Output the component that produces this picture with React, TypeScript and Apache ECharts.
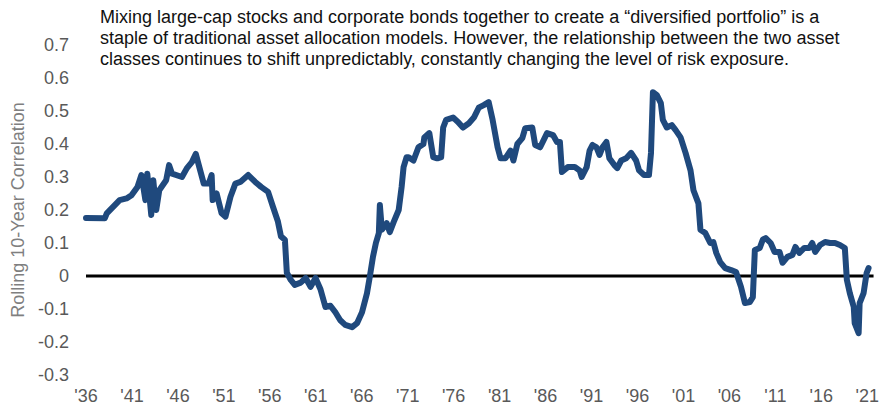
import React, { useEffect, useRef } from "react";
import * as echarts from "echarts";

const years: number[] = [
  1936.0, 1938.05, 1938.26, 1939.66, 1940.41, 1940.95, 1941.6, 1942.03, 1942.46, 1942.67,
  1943.1, 1943.32, 1943.64, 1943.97, 1944.72, 1945.04, 1945.36, 1946.44, 1946.98, 1947.52,
  1947.95, 1948.27, 1948.81, 1949.35, 1949.67, 1949.78, 1950.21, 1950.75, 1951.18, 1951.72,
  1952.25, 1952.79, 1953.65, 1954.41, 1955.05, 1955.81, 1956.34, 1956.88, 1957.21, 1957.64,
  1957.85, 1958.28, 1958.71, 1959.36, 1959.9, 1960.43, 1960.97, 1961.51, 1962.05, 1962.59,
  1963.13, 1963.66, 1964.2, 1964.96, 1965.49, 1966.03, 1966.57, 1966.89, 1967.22, 1967.54,
  1967.86, 1967.97, 1968.19, 1968.72, 1969.05, 1969.48, 1970.02, 1970.34, 1970.55, 1970.88,
  1971.09, 1971.63, 1972.17, 1972.71, 1972.81, 1973.35, 1973.78, 1974.11, 1974.32, 1974.64,
  1974.86, 1975.18, 1975.94, 1976.47, 1977.01, 1977.66, 1978.2, 1978.73, 1979.27, 1979.81,
  1980.24, 1980.78, 1981.1, 1981.64, 1982.18, 1982.5, 1982.93, 1983.47, 1983.79, 1984.55,
  1984.87, 1985.41, 1986.16, 1986.81, 1987.24, 1987.56, 1987.78, 1988.42, 1989.18, 1989.71,
  1989.93, 1990.47, 1990.79, 1991.11, 1991.54, 1991.87, 1992.19, 1992.62, 1992.94, 1993.48,
  1993.8, 1994.23, 1994.77, 1995.31, 1995.85, 1996.17, 1996.71, 1997.25, 1997.47, 1997.68,
  1998.11, 1998.54, 1998.76, 1999.19, 1999.73, 2000.15, 2000.69, 2001.23, 2001.77, 2002.09,
  2002.63, 2002.85, 2003.38, 2003.92, 2004.25, 2004.57, 2005.0, 2005.54, 2006.18, 2006.72,
  2007.26, 2007.69, 2008.23, 2008.55, 2008.77, 2009.3, 2009.63, 2009.95, 2010.49, 2010.92,
  2011.46, 2011.78, 2012.32, 2012.86, 2013.18, 2013.61, 2014.15, 2014.69, 2015.01, 2015.33,
  2015.87, 2016.41, 2016.95, 2017.49, 2018.02, 2018.56, 2018.78, 2019.1, 2019.53, 2019.63,
  2020.06, 2020.17, 2020.6, 2020.93, 2021.14,
];

const correlation: number[] = [
  0.176, 0.175, 0.19, 0.23, 0.235, 0.245, 0.27, 0.306, 0.23, 0.31,
  0.185, 0.29, 0.2, 0.26, 0.29, 0.336, 0.31, 0.3, 0.327, 0.345,
  0.37, 0.336, 0.28, 0.28, 0.306, 0.23, 0.25, 0.19, 0.18, 0.24,
  0.28, 0.285, 0.306, 0.285, 0.27, 0.255, 0.21, 0.165, 0.12, 0.11,
  0.01, -0.012, -0.027, -0.02, -0.006, -0.033, -0.006, -0.04, -0.094, -0.09,
  -0.11, -0.134, -0.148, -0.155, -0.143, -0.11, -0.052, 0.0, 0.058, 0.1,
  0.13, 0.215, 0.14, 0.16, 0.133, 0.164, 0.2, 0.27, 0.33, 0.36,
  0.36, 0.35, 0.39, 0.4, 0.42, 0.433, 0.36, 0.357, 0.357, 0.36,
  0.45, 0.473, 0.48, 0.467, 0.45, 0.463, 0.48, 0.51, 0.518, 0.527,
  0.473, 0.39, 0.357, 0.357, 0.38, 0.35, 0.4, 0.418, 0.448, 0.45,
  0.397, 0.39, 0.433, 0.427, 0.406, 0.406, 0.315, 0.33, 0.33, 0.32,
  0.3, 0.33, 0.38, 0.397, 0.39, 0.367, 0.39, 0.406, 0.357, 0.336,
  0.327, 0.35, 0.357, 0.373, 0.35, 0.32, 0.306, 0.306, 0.373, 0.557,
  0.548, 0.524, 0.473, 0.45, 0.457, 0.442, 0.42, 0.373, 0.32, 0.26,
  0.22, 0.14, 0.13, 0.1, 0.103, 0.07, 0.042, 0.024, 0.018, 0.012,
  -0.033, -0.082, -0.079, -0.064, 0.079, 0.085, 0.11, 0.115, 0.1, 0.073,
  0.073, 0.04, 0.058, 0.064, 0.088, 0.07, 0.085, 0.085, 0.1, 0.073,
  0.094, 0.103, 0.1, 0.1, 0.094, 0.085, -0.012, -0.052, -0.094, -0.143,
  -0.173, -0.082, -0.052, 0.009, 0.024,
];

const startYear = 1936;
const yTickMin = -0.3;
const yTickMax = 0.7;
const yTickStep = 0.1;

const noteLines: string[] = [
  "Mixing large-cap stocks and corporate bonds together to create a \u201cdiversified portfolio\u201d is a",
  "staple of traditional asset allocation models. However, the relationship between the two asset",
  "classes continues to shift unpredictably, constantly changing the level of risk exposure.",
];

const yAxisTitle = "Rolling 10-Year Correlation";

const FONT = "'Liberation Sans', Arial, sans-serif";

export default function App() {
  const ref = useRef<HTMLDivElement>(null);

  useEffect(() => {
    document.body.style.margin = "0";
    if (!ref.current) return;
    const chart = echarts.init(ref.current, undefined, { renderer: "svg" });
    const xMax = (882 - 86) / 9.29;
    const data = years.map((y, i) => [y - startYear, correlation[i]]);
    chart.setOption({
      animation: false,
      grid: { left: 86, right: 0, top: 45, bottom: 32, containLabel: false },
      xAxis: {
        type: "value",
        min: 0,
        max: xMax,
        interval: 5,
        axisLine: { show: false },
        axisTick: { show: false },
        splitLine: { show: false },
        axisLabel: {
          color: "#595959",
          fontFamily: FONT,
          fontSize: 18,
          margin: 12,
          showMaxLabel: false,
          formatter: (v: number) =>
            "'" + String((startYear + Math.round(v)) % 100).padStart(2, "0"),
        },
      },
      yAxis: {
        type: "value",
        min: yTickMin,
        max: yTickMax,
        interval: yTickStep,
        axisLine: { show: false },
        axisTick: { show: false },
        splitLine: { show: false },
        name: yAxisTitle,
        nameLocation: "middle",
        nameGap: 57,
        nameTextStyle: { color: "#7f7f7f", fontFamily: FONT, fontSize: 18 },
        axisLabel: {
          color: "#595959",
          fontFamily: FONT,
          fontSize: 18,
          margin: 17,
          formatter: (v: number) => (Math.abs(v) < 1e-9 ? "0" : v.toFixed(1)),
        },
      },
      graphic: [
        {
          type: "text",
          left: 100,
          top: 6,
          style: {
            text: noteLines.join("\n"),
            font: `18px ${FONT}`,
            fill: "#111111",
            lineHeight: 21,
          },
        },
      ],
      series: [
        {
          type: "line",
          data: [
            [0, 0],
            [xMax, 0],
          ],
          symbol: "none",
          lineStyle: { color: "#000", width: 3 },
          z: 1,
          silent: true,
        },
        {
          type: "line",
          data,
          symbol: "none",
          lineStyle: { color: "#1F497D", width: 6, join: "round", cap: "round" },
          z: 3,
        },
      ],
    });
    return () => chart.dispose();
  }, []);

  return <div ref={ref} style={{ width: 882, height: 407 }} />;
}
